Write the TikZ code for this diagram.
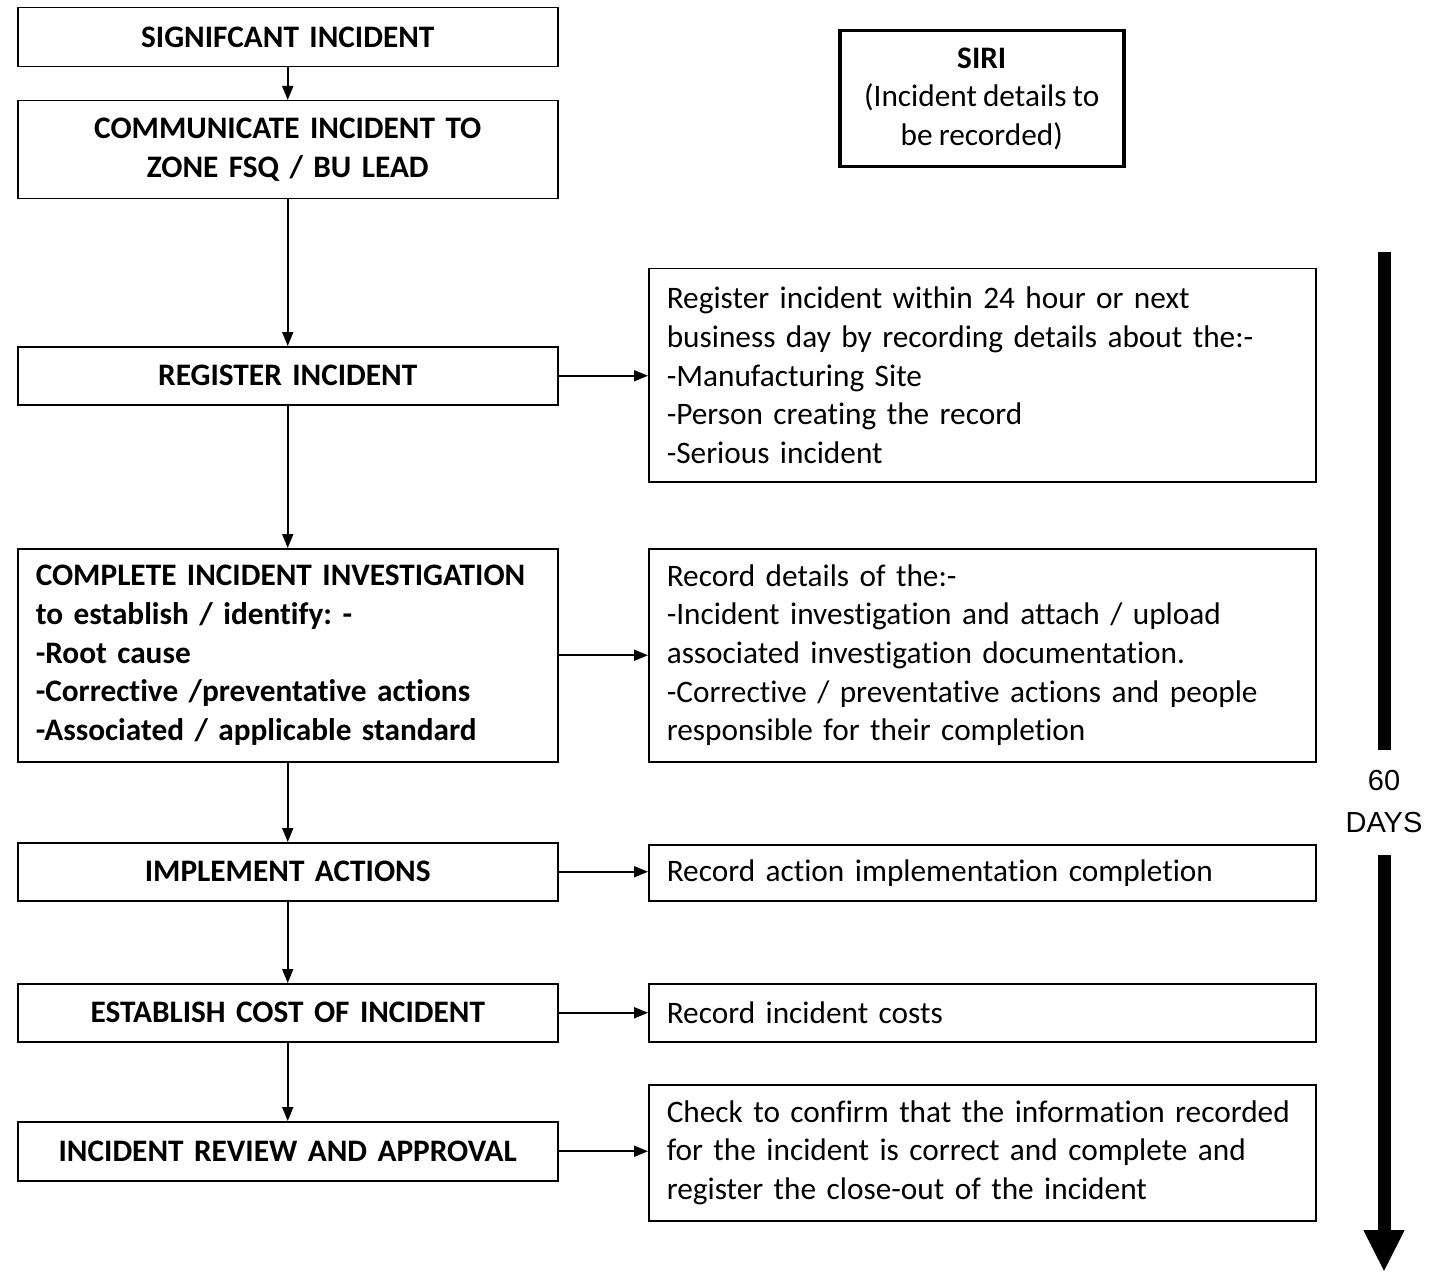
\documentclass[tikz,border=0pt]{standalone}
\usepackage{fontspec}
\setmainfont{Carlito}[Ligatures=NoCommon, WordSpace=0.85]
\newfontfamily\arialfont{Liberation Sans}
\frenchspacing
\usetikzlibrary{arrows.meta}
\tikzset{
  basefont/.style={font=\fontsize{31.3}{38.7}\selectfont},
  lbox/.style={draw, line width=1.5pt, basefont, anchor=north west, minimum width=540pt, inner xsep=18pt, inner ysep=0pt, align=center, text width=504pt},
  rbox/.style={draw, line width=1.5pt, basefont, anchor=north west, minimum width=667pt, inner xsep=18pt, inner ysep=0pt, align=left, text width=631pt},
  flow/.style={line width=1.8pt, -{Triangle[length=14pt,width=11pt]}},
  timebar/.style={line width=13pt}
}
\begin{document}
\begin{tikzpicture}[x=1pt,y=-1pt]
\useasboundingbox (0,0) rectangle (1434,1273);
% left column
\node[lbox, minimum height=59pt] (b1) at (17,7) {\bfseries SIGNIFCANT INCIDENT};
\node[lbox, minimum height=98pt] (b2) at (17,100) {\bfseries COMMUNICATE INCIDENT TO\\ \bfseries ZONE FSQ / BU LEAD};
\node[lbox, minimum height=58pt] (b3) at (17,346) {\bfseries REGISTER INCIDENT};
\node[lbox, minimum height=213pt, align=left] (b4) at (17,548) {\bfseries COMPLETE INCIDENT INVESTIGATION\\ \bfseries to establish / identify: -\\ \bfseries -Root cause\\ \bfseries -Corrective /preventative actions\\ \bfseries -Associated / applicable standard};
\node[lbox, minimum height=58pt] (b5) at (17,842) {\bfseries IMPLEMENT ACTIONS};
\node[lbox, minimum height=58pt] (b6) at (17,983) {\bfseries ESTABLISH COST OF INCIDENT};
\node[lbox, minimum height=59pt] (b7) at (17,1121) {\bfseries INCIDENT REVIEW AND APPROVAL};
% SIRI
\node[draw, line width=3.5pt, basefont, anchor=north west, minimum width=284pt, minimum height=136pt, align=center, inner sep=0pt] (siri) at (838,29) {\bfseries SIRI\\(Incident details to\\be recorded)};
% right column
\node[rbox, minimum height=213pt] (r1) at (648,268) {Register incident within 24 hour or next\\business day by recording details about the:-\\-Manufacturing Site\\-Person creating the record\\-Serious incident};
\node[rbox, minimum height=213pt] (r2) at (648,548) {Record details of the:-\\-Incident investigation and attach / upload\\associated investigation documentation.\\-Corrective / preventative actions and people\\responsible for their completion};
\node[rbox, minimum height=56pt] (r3) at (648,844) {Record action implementation completion};
\node[rbox, minimum height=58pt] (r4) at (648,983) {Record incident costs};
\node[rbox, minimum height=136pt] (r5) at (648,1084) {Check to confirm that the information recorded\\for the incident is correct and complete and\\register the close-out of the incident};
% vertical flow
\draw[flow] (b1) -- (b2);
\draw[flow] (b2) -- (b3);
\draw[flow] (b3) -- (b4);
\draw[flow] (b4) -- (b5);
\draw[flow] (b5) -- (b6);
\draw[flow] (b6) -- (b7);
% horizontal flow
\draw[flow] (b3.east) -- (b3.east -| r1.west);
\draw[flow] (b4.east) -- (b4.east -| r2.west);
\draw[flow] (b5.east) -- (b5.east -| r3.west);
\draw[flow] (b6.east) -- (b6.east -| r4.west);
\draw[flow] (b7.east) -- (b7.east -| r5.west);
% timeline
\coordinate (ttop) at (1384,252);
\coordinate (tb1) at (1384,750);
\coordinate (tb2) at (1384,855);
\coordinate (ttip) at (1384,1272);
\node[font=\arialfont\fontsize{29}{42}\selectfont, align=center, inner sep=0pt] (days) at (1384,802) {60\\DAYS};
\draw[timebar] (ttop) -- (tb1);
\draw[timebar, -{Triangle[length=42pt,width=38pt]}] (tb2) -- (ttip);
\end{tikzpicture}
\end{document}
